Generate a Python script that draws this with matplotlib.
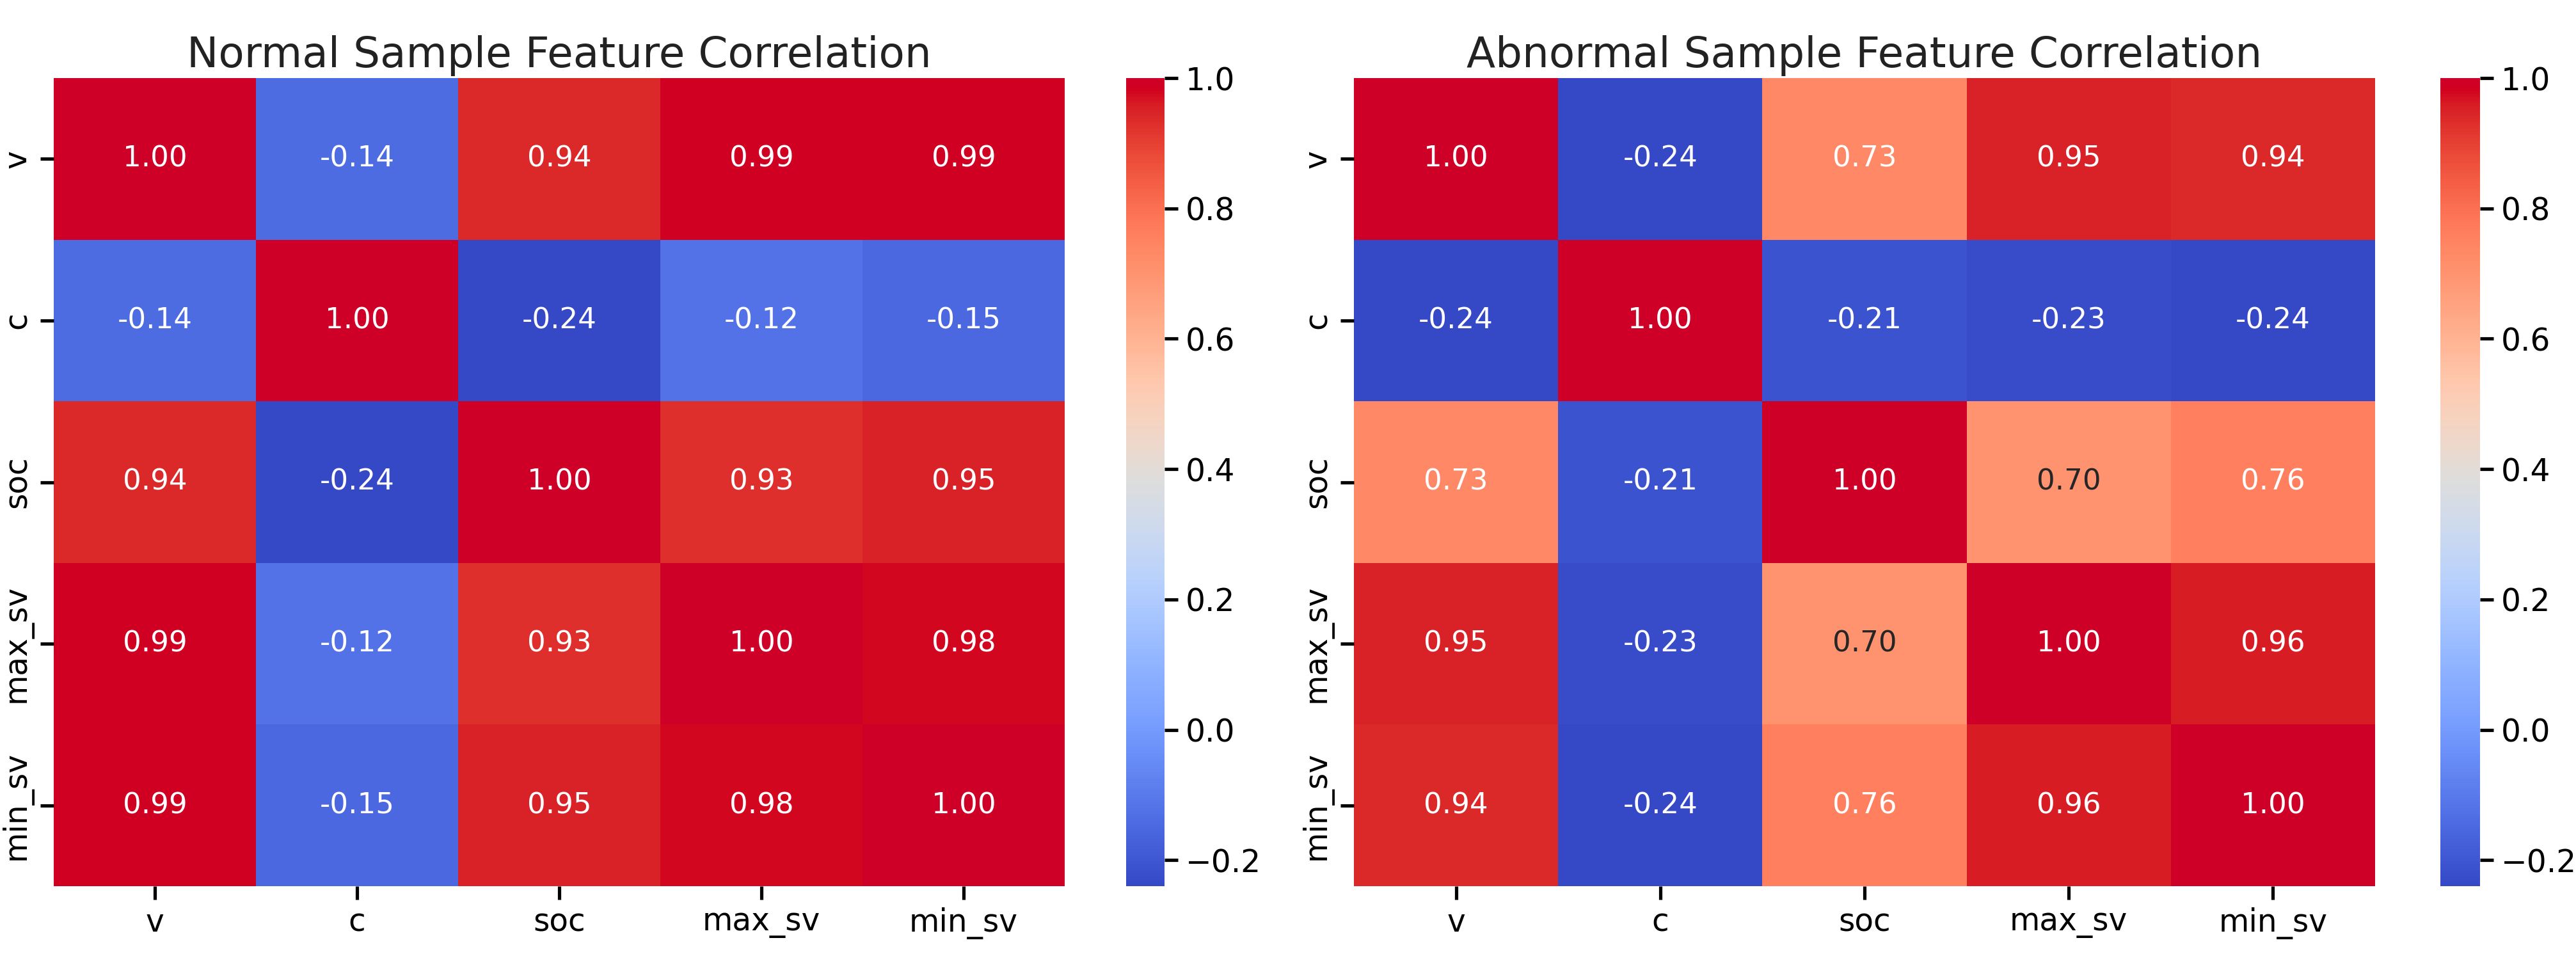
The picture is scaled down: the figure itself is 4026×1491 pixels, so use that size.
import numpy as np
import pandas as pd
import matplotlib
matplotlib.use("Agg")
import matplotlib.pyplot as plt
import matplotlib.colors as mcolors
import seaborn as sns

features = ["v", "c", "soc", "max_sv", "min_sv"]

normal_v = [1.00, -0.14, 0.94, 0.99, 0.99]
normal_c = [-0.14, 1.00, -0.24, -0.12, -0.15]
normal_soc = [0.94, -0.24, 1.00, 0.93, 0.95]
normal_max_sv = [0.99, -0.12, 0.93, 1.00, 0.98]
normal_min_sv = [0.99, -0.15, 0.95, 0.98, 1.00]

abnormal_v = [1.00, -0.24, 0.73, 0.95, 0.94]
abnormal_c = [-0.24, 1.00, -0.21, -0.23, -0.24]
abnormal_soc = [0.73, -0.21, 1.00, 0.70, 0.76]
abnormal_max_sv = [0.95, -0.23, 0.70, 1.00, 0.96]
abnormal_min_sv = [0.94, -0.24, 0.76, 0.96, 1.00]

normal = pd.DataFrame([normal_v, normal_c, normal_soc, normal_max_sv, normal_min_sv],
                      index=features, columns=features)
abnormal = pd.DataFrame([abnormal_v, abnormal_c, abnormal_soc, abnormal_max_sv, abnormal_min_sv],
                        index=features, columns=features)

# coolwarm, a bit more vivid (the reference looks brighter than stock coolwarm)
base = plt.get_cmap("coolwarm")(np.linspace(0, 1, 256))[:, :3]
hsv = mcolors.rgb_to_hsv(base)
t = np.linspace(0, 1, 256)
boost = np.where(t > 0.5, 0.15, 0.04)
hsv[:, 2] = np.clip(hsv[:, 2] * (1 + hsv[:, 1] * boost), 0, 1)
hsv[:, 1] = np.clip(hsv[:, 1] * np.where(t > 0.5, 1.1, 1.05), 0, 1)
cmap = mcolors.ListedColormap(mcolors.hsv_to_rgb(hsv), name="coolwarm_vivid")

W, H = 4026, 1491
fig = plt.figure(figsize=(W / 250, H / 250), dpi=250)

def box(x0, x1, y0=122, y1=1385):
    return [x0 / W, 1 - y1 / H, (x1 - x0) / W, (y1 - y0) / H]

ax1 = fig.add_axes(box(84, 1664))
cax1 = fig.add_axes(box(1760, 1820))
ax2 = fig.add_axes(box(2116, 3712))
cax2 = fig.add_axes(box(3814, 3876))

for df, ax, cax, title in [(normal, ax1, cax1, "Normal Sample Feature Correlation"),
                           (abnormal, ax2, cax2, "Abnormal Sample Feature Correlation")]:
    sns.heatmap(df, annot=True, fmt=".2f", cmap=cmap, ax=ax, cbar_ax=cax,
                annot_kws={"fontsize": 13})
    ax.set_title(title, fontsize=19, color="#222222", pad=5)
    ax.tick_params(labelsize=14, length=6, width=1.5)
    cax.tick_params(labelsize=14, length=6, width=1.5)

fig.savefig("out.png", dpi=250)
